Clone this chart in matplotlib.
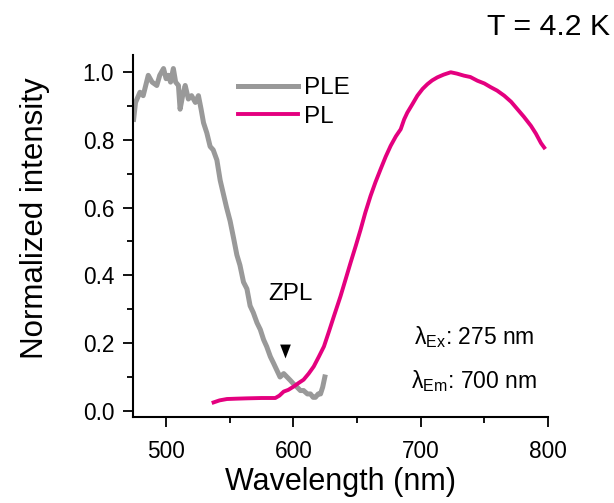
import numpy as np
import matplotlib.pyplot as plt
from matplotlib.ticker import MultipleLocator

plt.rcParams['font.family'] = ['Liberation Sans', 'DejaVu Sans']

# PLE spectrum (gray)
ple_wl = [474.5, 476, 479.5, 482, 486, 489, 492.7, 495, 498, 500, 501.8, 503.5, 505.7,
          507.5, 509.7, 511, 513, 515, 517.5, 520, 523, 525.4, 527.5, 529.4, 532,
          534.6, 537, 539.9, 542.5, 545, 547.5, 550.3, 553, 555.6, 558, 560.8, 563.5,
          566, 568.5, 571.4, 574, 576.6, 579, 581.9, 584.5, 587, 589.5, 592.4, 595,
          597.6, 600, 602.9, 605.5, 608, 611, 613.4, 615.5, 617.3, 619.5, 621.3, 623, 624.7]
ple_int = [0.86, 0.91, 0.94, 0.93, 0.99, 0.97, 0.96, 0.99, 1.01, 0.98, 0.99, 0.97, 1.01,
           0.97, 0.96, 0.89, 0.93, 0.96, 0.92, 0.93, 0.91, 0.93, 0.89, 0.85, 0.82,
           0.78, 0.77, 0.74, 0.68, 0.64, 0.60, 0.56, 0.51, 0.46, 0.43, 0.38, 0.36,
           0.31, 0.29, 0.26, 0.24, 0.21, 0.19, 0.16, 0.14, 0.12, 0.10, 0.11, 0.10,
           0.09, 0.08, 0.07, 0.06, 0.06, 0.05, 0.05, 0.04, 0.04, 0.05, 0.05, 0.07, 0.10]

# PL spectrum (magenta)
pl_wl = [537.3, 542, 547.8, 555, 563.5, 575, 585.8, 589, 592.4, 596, 600.3, 604, 608,
         612, 616, 620, 624, 628, 631.8, 637, 641, 644.9, 649, 652.8, 656.5, 660.6,
         664.5, 668.5, 672.5, 676.4, 680.5, 684.3, 687, 689.5, 693.5, 697.4, 701.5,
         705.3, 709, 713.1, 718, 723.6, 728.5, 734, 739, 744.6, 750, 755, 760,
         765.6, 771, 776, 781, 786.6, 790.5, 794.5, 797]
pl_int = [0.025, 0.031, 0.035, 0.036, 0.037, 0.038, 0.038, 0.045, 0.057, 0.062, 0.072, 0.082, 0.092,
          0.11, 0.131, 0.16, 0.19, 0.235, 0.279, 0.338, 0.388, 0.437, 0.487, 0.535, 0.585, 0.634,
          0.675, 0.713, 0.75, 0.782, 0.81, 0.831, 0.86, 0.88, 0.905, 0.93, 0.95,
          0.964, 0.975, 0.984, 0.992, 0.999, 0.995, 0.989, 0.985, 0.974, 0.966, 0.955, 0.945,
          0.93, 0.912, 0.89, 0.868, 0.841, 0.818, 0.79, 0.777]

fig = plt.figure(figsize=(6.14, 5.03), dpi=100)
ax = fig.add_axes([0.2166, 0.171, 0.6759, 0.7197])

ax.plot(ple_wl, ple_int, color='#999999', lw=3.6, label='PLE')
ax.plot(pl_wl, pl_int, color='#e4007f', lw=2.8, label='PL')

ax.set_xlim(474, 800)
ax.set_ylim(-0.018, 1.05)
ax.xaxis.set_major_locator(MultipleLocator(100))
ax.xaxis.set_minor_locator(MultipleLocator(50))
ax.yaxis.set_major_locator(MultipleLocator(0.2))
ax.yaxis.set_minor_locator(MultipleLocator(0.1))
ax.yaxis.set_major_formatter(plt.FormatStrFormatter('%.1f'))
ax.tick_params(which='major', direction='out', length=7.5, width=1.3, labelsize=16.3)
ax.tick_params(which='minor', direction='out', length=4.5, width=1.3)
ax.tick_params(axis='x', which='major', pad=9)
ax.tick_params(axis='y', which='major', pad=6)
ax.spines['top'].set_visible(False)
ax.spines['right'].set_visible(False)
ax.spines['left'].set_linewidth(1.5)
ax.spines['bottom'].set_linewidth(1.5)

ax.set_xlabel('Wavelength (nm)', fontsize=22)
ax.set_ylabel('Normalized intensity', fontsize=22.5)
ax.xaxis.set_label_coords(0.501, -0.139)
ax.yaxis.set_label_coords(-0.201, 0.55)

ax.legend(loc='upper left', bbox_to_anchor=(0.253, 0.938), frameon=False, fontsize=17.5,
          handlelength=2.45, handletextpad=0.25, labelspacing=0.26,
          borderpad=0, borderaxespad=0)

ax.text(597.8, 0.346, 'ZPL', fontsize=17.5, ha='center', va='center')
ax.plot([593.5], [0.178], marker=[(-1, 1.3), (1, 1.3), (0, -1.3)],
        color='black', markersize=10, markeredgewidth=0)

fig.text(535 / 614, 1 - 337 / 503, 'λ$_{\\mathregular{Ex}}$: 275 nm', fontsize=16.5,
         ha='right', va='center')
fig.text(537 / 614, 1 - 381 / 503, 'λ$_{\\mathregular{Em}}$: 700 nm', fontsize=16.5,
         ha='right', va='center')

fig.text(0.9935, 0.946, 'T = 4.2 K', ha='right', va='center', fontsize=21.8)

fig.savefig('out.png', dpi=100)
